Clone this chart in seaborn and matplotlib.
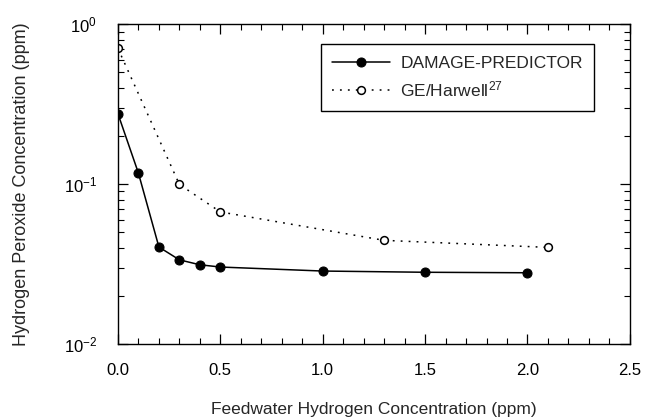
import pandas as pd
import matplotlib
matplotlib.use("Agg")
import matplotlib.pyplot as plt
import matplotlib.ticker as mticker
import seaborn as sns

# data
damage_x = [0.0, 0.1, 0.2, 0.3, 0.4, 0.5, 1.0, 1.5, 2.0]
damage_y = [0.275, 0.117, 0.0404, 0.0336, 0.0313, 0.0303, 0.0286, 0.0281, 0.0279]
ge_x = [0.0, 0.3, 0.5, 1.3, 2.1]
ge_y = [0.705, 0.0995, 0.067, 0.0445, 0.0402]

sns.set_theme(style="ticks")
plt.rcParams['font.family'] = ['Liberation Sans', 'DejaVu Sans']
plt.rcParams['mathtext.fontset'] = 'custom'
plt.rcParams['mathtext.rm'] = 'Liberation Sans'
plt.rcParams['mathtext.it'] = 'Liberation Sans'

df_damage = pd.DataFrame({'x': damage_x, 'y': damage_y})
df_ge = pd.DataFrame({'x': ge_x, 'y': ge_y})

fig = plt.figure(figsize=(6.5, 4.17), dpi=100)
ax = fig.add_axes([0.1815, 0.175, 0.7875, 0.767])

sns.lineplot(data=df_damage, x='x', y='y', ax=ax, color='black', linewidth=1.1,
             marker='o', markersize=6.5, markerfacecolor='black',
             markeredgecolor='black', label='DAMAGE-PREDICTOR')
sns.lineplot(data=df_ge, x='x', y='y', ax=ax, color='black', linewidth=1.1,
             linestyle=(0, (1.2, 4)), marker='o', markersize=5.6,
             markerfacecolor='white', markeredgecolor='black',
             markeredgewidth=1.1, label=r'GE/Harwell$^{27}$')

ax.set_yscale('log')
ax.set_ylim(1e-2, 1)
ax.set_xlim(0, 2.5)
ax.xaxis.set_major_locator(mticker.MultipleLocator(0.5))
ax.xaxis.set_minor_locator(mticker.MultipleLocator(0.1))
ax.xaxis.set_major_formatter(mticker.FormatStrFormatter('%.1f'))
ax.yaxis.set_minor_locator(mticker.LogLocator(base=10, subs=range(2, 10)))

for s in ax.spines.values():
    s.set_color('black')
    s.set_linewidth(1.0)

ax.tick_params(which='both', direction='in', top=True, right=True, colors='black')
ax.tick_params(which='major', length=7, width=0.9)
ax.tick_params(which='minor', length=4, width=0.8)
ax.tick_params(axis='x', which='major', pad=14, labelsize=12)
ax.tick_params(axis='y', which='major', pad=15, labelsize=12)

ax.set_xlabel('Feedwater Hydrogen Concentration (ppm)', fontsize=12.5, labelpad=17)
ax.set_ylabel('Hydrogen Peroxide Concentration (ppm)', fontsize=13, labelpad=24)

leg = ax.legend(loc='upper left', bbox_to_anchor=(0.397, 0.937), fontsize=12.5,
                frameon=True, fancybox=False, edgecolor='black', framealpha=1,
                handlelength=3.3, handletextpad=0.6, borderpad=0.65,
                labelspacing=0.5, borderaxespad=0)
leg.get_frame().set_linewidth(1.0)

fig.savefig('out.png', dpi=100)
